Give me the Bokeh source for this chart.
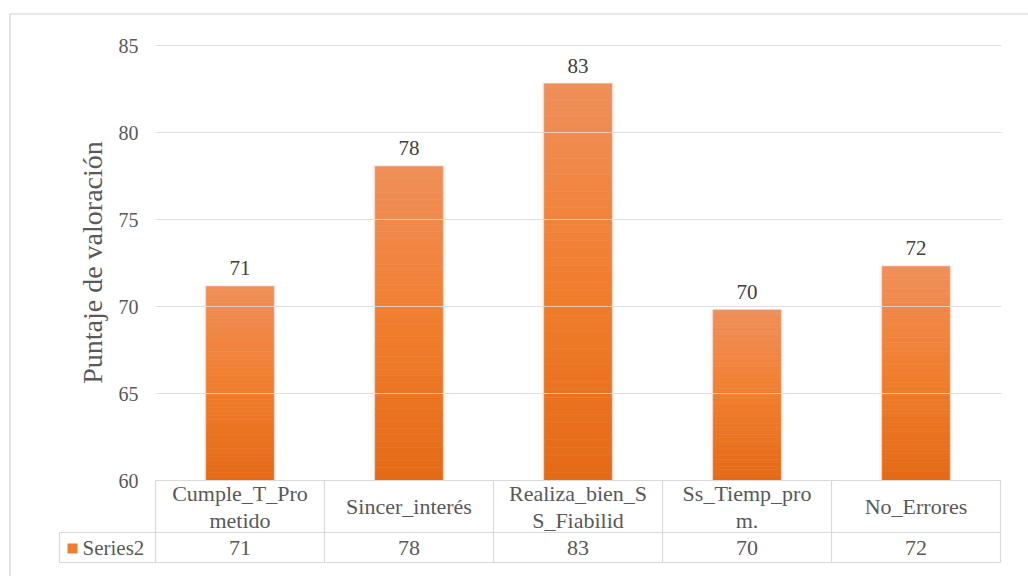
import math
from bokeh.plotting import figure
from bokeh.models import Range1d, Grid
from bokeh.core.properties import value
from bokeh.embed import file_html
from bokeh.resources import INLINE

# ---- data -------------------------------------------------------------
categories = ["Cumple_T_Pro\nmetido", "Sincer_interés", "Realiza_bien_S\nS_Fiabilid",
              "Ss_Tiemp_pro\nm.", "No_Errores"]
scores = [71.15, 78.05, 82.8, 69.8, 72.3]
series_name = "Series2"
y_ticks = [60, 65, 70, 75, 80, 85]
y_title = "Puntaje de valoración"

# ---- layout constants (screen pixels) ---------------------------------
W, H = 1028, 576
PX_X = 169.0      # width of one category column
X0 = 239.5        # centre of the first column
PX_Y = 17.4       # pixels per score unit
Y_BASE_PX = 480   # screen row of the axis minimum
Y_MIN = y_ticks[0]

FONT = value("Liberation Serif")
GREY_TXT = "#595959"
LINE = "#d9d9d9"


def dx(px):
    return (px - X0) / PX_X


def dy(py):
    return Y_MIN + (Y_BASE_PX - py) / PX_Y


p = figure(width=W, height=H,
           x_range=Range1d(dx(0), dx(W)), y_range=Range1d(dy(H), dy(0)),
           x_axis_location=None, y_axis_location=None,
           output_backend="svg", toolbar_location=None,
           min_border=0, outline_line_color=None,
           background_fill_color="white", border_fill_color="white")
for g in p.select(type=Grid):
    g.visible = False

idx = list(range(len(categories)))
half = 0.2  # half bar width in category units

# soft shadow behind the bars
for grow, alpha in ((3.0, 0.05), (1.5, 0.08)):
    p.quad(left=[i - half - grow / PX_X for i in idx],
           right=[i + half + grow / PX_X for i in idx],
           bottom=[Y_MIN] * len(idx),
           top=[v + grow * 0.5 / PX_Y for v in scores],
           fill_color="#7f7f7f", fill_alpha=alpha, line_color=None)

# bars with a vertical gradient (darker at the base, lighter at the top)
c_bot = (228, 106, 22)
c_mid = (241, 126, 46)
c_top = (240, 143, 90)
n_seg = 48
L, R, B, T, C = [], [], [], [], []
for i, v in zip(idx, scores):
    for k in range(n_seg):
        t = (k + 0.5) / n_seg
        if t < 0.5:
            a_, b_, u = c_bot, c_mid, t / 0.5
        else:
            a_, b_, u = c_mid, c_top, (t - 0.5) / 0.5
        rgb = tuple(int(round(a + (b - a) * u)) for a, b in zip(a_, b_))
        L.append(i - half)
        R.append(i + half)
        B.append(Y_MIN + (v - Y_MIN) * k / n_seg)
        T.append(Y_MIN + (v - Y_MIN) * (k + 1) / n_seg)
        C.append("#%02x%02x%02x" % rgb)
p.quad(left=L, right=R, bottom=B, top=T, fill_color=C, line_color=C, line_width=0.6)

# horizontal grid lines (drawn over the bars)
p.segment(x0=[dx(155)] * len(y_ticks), x1=[dx(1001)] * len(y_ticks),
          y0=y_ticks, y1=y_ticks, line_color=LINE, line_width=1.2, line_alpha=0.85)

# y tick labels
p.text(x=[dx(138)] * len(y_ticks), y=y_ticks, text=[str(t) for t in y_ticks],
       text_font=FONT, text_font_size="20px", text_color=GREY_TXT,
       text_align="right", text_baseline="middle")

# y axis title
p.text(x=[dx(92)], y=[dy(262)], text=[y_title], angle=math.pi / 2,
       text_font=FONT, text_font_size="28px", text_color=GREY_TXT,
       text_align="center", text_baseline="middle")

# value labels above bars
p.text(x=idx, y=[v + 11 / PX_Y for v in scores], text=[f"{round(v)}" for v in scores],
       text_font=FONT, text_font_size="21px", text_color="#404040",
       text_align="center", text_baseline="bottom")

# ---- data table under the plot ----------------------------------------
row1_bot = dy(532)
row2_bot = dy(562)
col_left = dx(59)
edges = [i - 0.5 for i in idx] + [idx[-1] + 0.5]

hx0 = [edges[0], col_left, col_left] + edges
hx1 = [edges[-1], edges[-1], edges[-1]] + edges
hy0 = [Y_MIN, row1_bot, row2_bot] + [Y_MIN] * len(edges)
hy1 = [Y_MIN, row1_bot, row2_bot] + [row2_bot] * len(edges)
hx0.append(col_left); hx1.append(col_left); hy0.append(row1_bot); hy1.append(row2_bot)
p.segment(x0=hx0, x1=hx1, y0=hy0, y1=hy1, line_color=LINE, line_width=1.2)

p.text(x=idx, y=[dy(506)] * len(idx), text=categories,
       text_font=FONT, text_font_size="22px", text_color=GREY_TXT,
       text_align="center", text_baseline="middle", text_line_height=1.08)

p.text(x=idx, y=[dy(547)] * len(idx), text=[f"{round(v)}" for v in scores],
       text_font=FONT, text_font_size="22px", text_color=GREY_TXT,
       text_align="center", text_baseline="middle")

p.scatter(x=[dx(72)], y=[dy(548)], marker="square", size=10,
          fill_color="#ED7D31", line_color=None)
p.text(x=[dx(82)], y=[dy(547)], text=[series_name],
       text_font=FONT, text_font_size="21px", text_color=GREY_TXT,
       text_align="left", text_baseline="middle")

# chart area border (top and left edges)
p.segment(x0=[dx(9), dx(9.5)], x1=[dx(W), dx(9.5)],
          y0=[dy(13.5), dy(13.5)], y1=[dy(13.5), dy(H)],
          line_color="#d0d0d0", line_width=1.2)

open("out.html", "w").write(file_html(p, INLINE))
